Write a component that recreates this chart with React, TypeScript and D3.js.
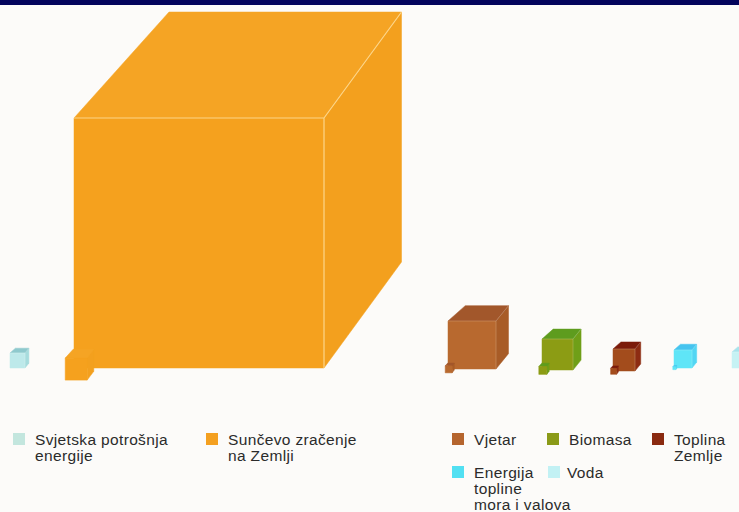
import React from "react";
import * as d3 from "d3";

// Data: cube edge sizes (relative units, px at scale 1)
const sources = ["world", "solar", "wind", "biomass", "geo", "ocean", "water"];
const labels = [
  ["Svjetska potrošnja", "energije"],
  ["Sunčevo zračenje", "na Zemlji"],
  ["Vjetar"],
  ["Biomasa"],
  ["Toplina", "Zemlje"],
  ["Energija", "topline", "mora i valova"],
  ["Voda"],
];
const edgeSize = [15, 250, 48, 31, 22, 18, 16];
// small reference cube (world consumption at each cube's scale)
const refSize = [0, 22, 7, 8, 6, 3, 0];

const W = 739;
const H = 512;

const frontColors = ["#bde9ea", "#f5a11e", "#b8692f", "#8c9c14", "#a34c1c", "#5fe5f7", "#c6f2f4"];
const topColors = ["#8ec9cd", "#f5a424", "#a2572b", "#5e9c1e", "#7b1b0a", "#46c4ef", "#a9e3ec"];
const rightColors = ["#a6dcdd", "#f3a01e", "#a85c27", "#6f9f18", "#8d2c12", "#52d6f3", "#b7ebf0"];
const legendColors = ["#c3e6de", "#f4a020", "#b5652e", "#8a9a18", "#8a2a10", "#52e0f2", "#c2f1f4"];

export default function App() {
  const s = d3.scaleLinear().domain([0, 250]).range([0, 250]);
  // layout: front-left x of each cube, baseline y
  const cubeX = [10, 74, 448, 542, 613, 674, 732];
  const baseY = [368, 368, 369, 370, 371, 368, 368];
  const depth = sources.map((k) =>
    k === "solar" ? { l: 0.38, r: 0.31, d: 0.424 } : { l: 0.36, r: 0.26, d: 0.32 }
  );

  const cube = (
    x: number,
    yb: number,
    e: number,
    dp: { l: number; r: number; d: number },
    i: number,
    key: string,
    edges: boolean
  ) => {
    const w = s(e);
    const h = s(e);
    const dxL = w * dp.l;
    const dxR = w * dp.r;
    const dy = h * dp.d;
    const line = d3.line();
    const front: [number, number][] = [[x, yb - h], [x + w, yb - h], [x + w, yb], [x, yb]];
    const top: [number, number][] = [[x, yb - h], [x + w, yb - h], [x + w + dxR, yb - h - dy], [x + dxL, yb - h - dy]];
    const right: [number, number][] = [[x + w, yb - h], [x + w + dxR, yb - h - dy], [x + w + dxR, yb - dy], [x + w, yb]];
    const corner: [number, number] = [x + w, yb - h];
    const stroke = i === 1 ? "#fcd58a" : "rgba(255,255,255,0.3)";
    const sw = i === 1 ? 1.2 : 0.6;
    return (
      <g key={key}>
        <path d={line(right) + "Z"} fill={rightColors[i]} stroke={rightColors[i]} strokeWidth={0.5} />
        <path d={line(top) + "Z"} fill={topColors[i]} stroke={topColors[i]} strokeWidth={0.5} />
        <path d={line(front) + "Z"} fill={frontColors[i]} stroke={frontColors[i]} strokeWidth={0.5} />
        {edges && (
          <path
            d={
              line([[x, yb - h], corner, [x + w + dxR, yb - h - dy]]) +
              line([corner, [x + w, yb]])
            }
            fill="none"
            stroke={stroke}
            strokeWidth={sw}
          />
        )}
      </g>
    );
  };

  // legend layout
  const legendPos = [
    { x: 13, y: 433 },
    { x: 206, y: 433 },
    { x: 452, y: 433 },
    { x: 547, y: 433 },
    { x: 652, y: 433 },
    { x: 452, y: 466 },
    { x: 548, y: 466 },
  ];

  return (
    <svg
      width={W}
      height={H}
      style={{ position: "absolute", left: 0, top: 0 }}
      fontFamily="'Liberation Sans', Arial, sans-serif"
    >
      <rect x={0} y={0} width={W} height={H} fill="#fcfbf9" />
      <rect x={0} y={0} width={W} height={5} fill="#03045c" />
      {sources.map((k, i) => {
        const e = edgeSize[i];
        const x = cubeX[i];
        const yb = baseY[i];
        const r = refSize[i];
        return (
          <g key={k}>
            {cube(x, yb, e, depth[i], i, k + "-main", true)}
            {r > 0 &&
              cube(
                x - s(r) * 0.4,
                yb + s(r) * 0.55,
                r,
                { l: 0.36, r: 0.3, d: 0.4 },
                i,
                k + "-ref",
                false
              )}
          </g>
        );
      })}
      {sources.map((k, i) => {
        const p = legendPos[i];
        const tx = p.x + (i === 6 ? 19 : 22);
        return (
          <g key={k + "-leg"}>
            <rect x={p.x} y={p.y} width={12} height={12} fill={legendColors[i]} />
            {labels[i].map((t, j) => (
              <text
                key={j}
                x={tx}
                y={p.y + 12 + j * 16}
                fontSize={15.5}
                letterSpacing={0.35}
                fill="#2b2b2b"
              >
                {t}
              </text>
            ))}
          </g>
        );
      })}
    </svg>
  );
}
